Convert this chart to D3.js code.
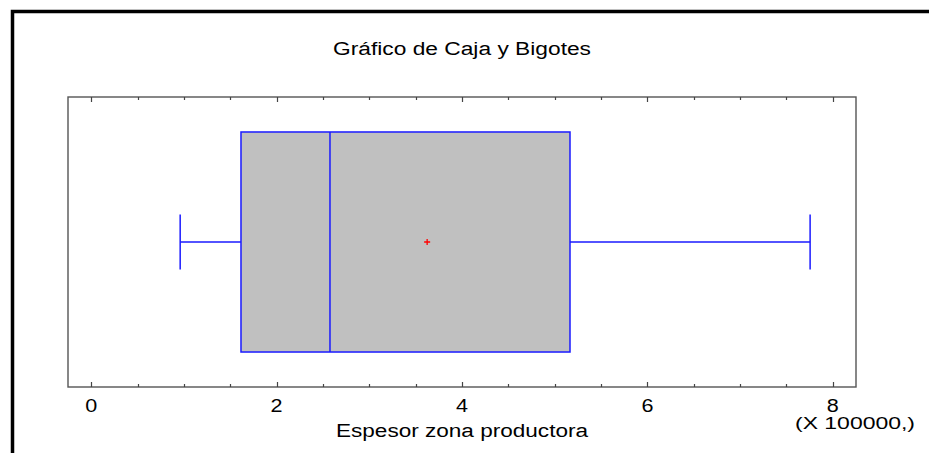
<!DOCTYPE html>
<html>
<head>
<meta charset="utf-8">
<script src="https://cdn.jsdelivr.net/npm/d3@7"></script>
<style>
  html, body { margin: 0; padding: 0; background: #fff; }
  svg { display: block; font-family: "Liberation Sans", Arial, sans-serif; }
</style>
</head>
<body>
<svg id="chart" width="929" height="453"></svg>
<script>
// Five-number summary and mean of the productive-zone thickness (units of 100000)
const seriesName = "Espesor zona productora";
const whiskerLow = [0.96];
const quartiles = [1.616, 2.576, 5.165];   // Q1, median, Q3
const whiskerHigh = [7.755];
const meanValue = [3.624];
const tickValues = [0, 2, 4, 6, 8];

const svg = d3.select("#chart");
const W = 929, H = 453;
const plot = { left: 68, right: 856, top: 97, bottom: 387 };

// Outer frame (top and left edges)
svg.append("path")
  .attr("d", `M12.5,${H} V11.5 H${W}`)
  .attr("fill", "none").attr("stroke", "#000").attr("stroke-width", 3.5);

// Text helper: the chart's lettering is set wide, so stretch it to a given width
function label(x, y, txt, size, width, anchor) {
  const t = svg.append("text")
    .attr("x", x).attr("y", y)
    .attr("text-anchor", anchor || "middle")
    .attr("font-size", size).attr("fill", "#000")
    .text(txt);
  if (width) t.attr("textLength", width).attr("lengthAdjust", "spacingAndGlyphs");
  return t;
}

// Title
label(462, 55, "Gráfico de Caja y Bigotes", 18, 258);

const x = d3.scaleLinear().domain([-0.25, 8.25]).range([plot.left, plot.right]);
const y = d3.scaleBand().domain([seriesName]).range([plot.top, plot.bottom]).paddingInner(0).paddingOuter(0.159);

// Plot frame
svg.append("rect")
  .attr("x", plot.left).attr("y", plot.top)
  .attr("width", plot.right - plot.left).attr("height", plot.bottom - plot.top)
  .attr("fill", "none").attr("stroke", "#555").attr("stroke-width", 1.4);

// Ticks: majors every 2, minors every 0.5, drawn inward on top and bottom edges
const minorTicks = d3.range(0, 8.01, 0.5).filter(v => !tickValues.includes(v));
const tickG = svg.append("g").attr("stroke", "#444").attr("stroke-width", 1.2);
[[tickValues, 5], [minorTicks, 3]].forEach(([vals, len]) => {
  vals.forEach(v => {
    const px = Math.round(x(v)) + 0.5;
    tickG.append("line").attr("x1", px).attr("x2", px).attr("y1", plot.top).attr("y2", plot.top + len);
    tickG.append("line").attr("x1", px).attr("x2", px).attr("y1", plot.bottom).attr("y2", plot.bottom - len);
  });
});

// Tick labels
tickValues.forEach(v => label(x(v), 412, String(v), 18, 12));

// Axis title and scale factor
label(462, 437, seriesName, 18, 252);
label(915, 429, "(X 100000,)", 17, 120, "end");

// Box and whiskers
const bandTop = y(seriesName), bandH = y.bandwidth();
const cy = bandTop + bandH / 2;
const capHalf = 27.5;
const blue = "#1a1aff";
const g = svg.append("g").attr("stroke", blue).attr("stroke-width", 1.5).attr("fill", "none");

g.append("line").attr("x1", x(whiskerLow[0])).attr("x2", x(quartiles[0])).attr("y1", cy).attr("y2", cy);
g.append("line").attr("x1", x(quartiles[2])).attr("x2", x(whiskerHigh[0])).attr("y1", cy).attr("y2", cy);
g.append("line").attr("x1", x(whiskerLow[0])).attr("x2", x(whiskerLow[0])).attr("y1", cy - capHalf).attr("y2", cy + capHalf);
g.append("line").attr("x1", x(whiskerHigh[0])).attr("x2", x(whiskerHigh[0])).attr("y1", cy - capHalf).attr("y2", cy + capHalf);

g.append("rect")
  .attr("x", x(quartiles[0])).attr("y", bandTop)
  .attr("width", x(quartiles[2]) - x(quartiles[0])).attr("height", bandH)
  .attr("fill", "#c0c0c0");
g.append("line").attr("x1", x(quartiles[1])).attr("x2", x(quartiles[1])).attr("y1", bandTop).attr("y2", bandTop + bandH);

// Mean marker
const mx = x(meanValue[0]);
svg.append("path")
  .attr("d", `M${mx - 3},${cy} H${mx + 3} M${mx},${cy - 3} V${cy + 3}`)
  .attr("stroke", "#ff0000").attr("stroke-width", 1.3);
</script>
</body>
</html>
